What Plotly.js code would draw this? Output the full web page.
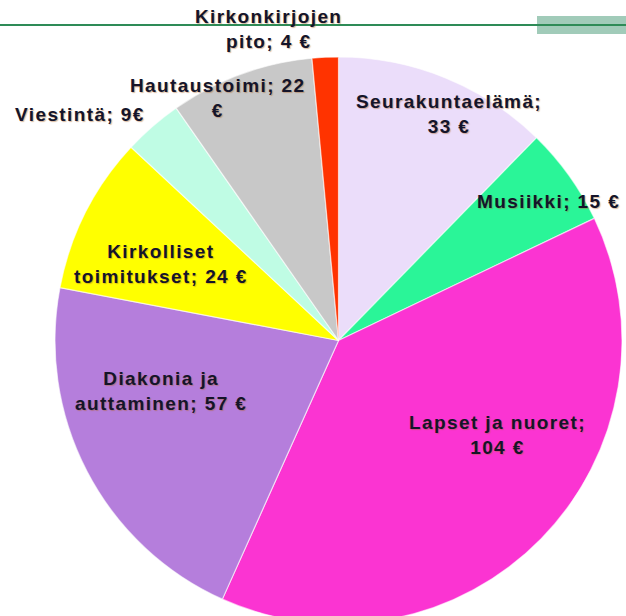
<!DOCTYPE html>
<html>
<head>
<meta charset="utf-8">
<script src="https://cdn.plot.ly/plotly-3.0.1.min.js"></script>
<style>
  html, body { margin: 0; padding: 0; overflow: hidden; background: #fff; }
  #chart { width: 626px; height: 630px; }
  .annotation-text { letter-spacing: 1.4px; }
</style>
</head>
<body>
<div id="chart"></div>
<script>
// ---- data ----
const categories = ["Seurakuntaelämä", "Musiikki", "Lapset ja nuoret", "Diakonia ja auttaminen",
                    "Kirkolliset toimitukset", "Viestintä", "Hautaustoimi", "Kirkonkirjojen pito"];
const values = [33, 15, 104, 57, 24, 9, 22, 4];
const sliceColors = ["#EBDDFA", "#2AF598", "#FB34D2", "#B57EDC", "#FFFF00", "#BFFCE4", "#C8C8C8", "#FF3300"];
// label text pieces (how each label is written on the chart)
const displayNames = ["Seurakuntaelämä", "Musiikki", "Lapset ja nuoret", "Diakonia ja<br>auttaminen",
                      "Kirkolliset<br>toimitukset", "Viestintä", "Hautaustoimi", "Kirkonkirjojen<br>pito"];
const nameValueSep = ["<br>", " ", "<br>", " ", " ", " ", " ", " "];
const valueUnitSep = [" ", " ", " ", " ", " ", "", "<br>", " "];

// ---- layout helpers (pixel positions of label centres) ----
const W = 626, H = 630;
const labelPx = [[449, 114], [548, 202], [497, 435], [161, 391], [161, 264], [80, 114], [218, 98], [268, 29]];
const px = x => x / W;
const py = y => 1 - y / H;

const annotations = categories.map((c, i) => ({
  text: displayNames[i] + ";" + nameValueSep[i] + values[i] + valueUnitSep[i] + "€",
  xref: "paper", yref: "paper",
  x: px(labelPx[i][0]), y: py(labelPx[i][1]),
  xanchor: "center", yanchor: "middle",
  showarrow: false, align: "center",
  font: { family: "Liberation Sans, Arial, sans-serif", size: 19, weight: "bold", color: "#14142a",
          shadow: "1px 1px 1px rgba(170,100,40,0.45)" }
}));

const trace = {
  type: "pie",
  labels: categories,
  values: values,
  sort: false,
  direction: "clockwise",
  rotation: 0,
  textinfo: "none",
  hoverinfo: "label+value",
  marker: { colors: sliceColors, line: { color: "rgba(255,255,255,0.6)", width: 1.2 } },
  domain: { x: [55 / W, 622 / W], y: [1 - 624 / H, 1 - 57 / H] },
  showlegend: false
};

const layout = {
  width: W, height: H,
  margin: { l: 0, r: 0, t: 0, b: 0 },
  paper_bgcolor: "#ffffff",
  showlegend: false,
  annotations: annotations,
  shapes: [
    { type: "rect", xref: "paper", yref: "paper", x0: px(537), x1: px(626), y0: py(34), y1: py(16),
      fillcolor: "rgba(130,185,162,0.75)", line: { width: 0 }, layer: "below" },
    { type: "line", xref: "paper", yref: "paper", x0: 0, x1: 1, y0: py(25), y1: py(25),
      line: { color: "#2E8B57", width: 2 }, layer: "below" }
  ]
};

Plotly.newPlot("chart", [trace], layout, { displayModeBar: false, staticPlot: true });
</script>
</body>
</html>
